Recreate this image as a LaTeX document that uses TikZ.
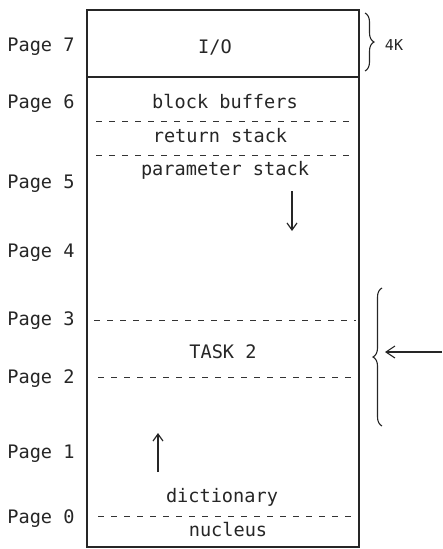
\documentclass[tikz,border=0pt]{standalone}
\usepackage{fontspec}
\setmainfont{DejaVu Sans Mono}
\usetikzlibrary{decorations.pathreplacing,arrows.meta}
\tikzset{
  ink/.style={draw=black!85, line width=1.1pt},
  sep/.style={draw=black!80, line width=1pt, dash pattern=on 6pt off 7pt},
  lbl/.style={font=\fontsize{18.6}{21}\selectfont, text=black!85, inner sep=0pt},
  growth/.style={draw=black!85, line width=1.2pt, -{Straight Barb[length=7pt,width=10pt]}},
  curly/.style={draw=black!85, line width=1.1pt, decorate, decoration={brace, amplitude=9pt}}
}
\begin{document}
\begin{tikzpicture}[x=1pt, y=-1pt]
  \useasboundingbox (0,0) rectangle (442,549);

  % memory block outline and I/O page
  \coordinate (tl) at (87,10);
  \coordinate (br) at (359,547);
  \draw[ink] (tl) rectangle (br);
  \draw[ink] (87,77) -- (359,77);

  % dashed region separators
  \draw[sep] (96,121) -- (356,121);
  \draw[sep] (96,155) -- (356,155);
  \draw[sep] (94,320) -- (356,320);
  \draw[sep] (98,377) -- (356,377);
  \draw[sep] (98,516) -- (358,516);

  % page labels
  \node[lbl] (p7) at (41,47)  {Page 7};
  \node[lbl] (p6) at (41,104) {Page 6};
  \node[lbl] (p5) at (41,184) {Page 5};
  \node[lbl] (p4) at (41,253) {Page 4};
  \node[lbl] (p3) at (41,321) {Page 3};
  \node[lbl] (p2) at (41,379) {Page 2};
  \node[lbl] (p1) at (41,454) {Page 1};
  \node[lbl] (p0) at (41,519) {Page 0};

  % region names
  \node[lbl] (io)   at (215,47)  {I/O};
  \node[lbl] (blk)  at (225,102) {block buffers};
  \node[lbl] (ret)  at (220,136) {return stack};
  \node[lbl] (par)  at (225,170) {parameter stack};
  \node[lbl] (task) at (223,352) {TASK 2};
  \node[lbl] (dict) at (222,497) {dictionary};
  \node[lbl] (nuc)  at (228,530) {nucleus};

  % stack and dictionary growth directions
  \coordinate (sdtop) at (292,191);
  \coordinate (sdbot) at (292,231);
  \draw[growth] (sdtop) -- (sdbot);
  \coordinate (dgbot) at (158,472);
  \coordinate (dgtop) at (158,433);
  \draw[growth] (dgbot) -- (dgtop);

  % 4K brace
  \draw[curly] (365,13) -- (365,71);
  \node[lbl, font=\fontsize{15}{17}\selectfont] (fourk) at (394,45) {4K};

  % task brace with incoming pointer
  \draw[curly] (382,426) -- (382,288);
  \coordinate (tsrc) at (442,352);
  \coordinate (tdst) at (385,352);
  \draw[draw=black!85, line width=1.1pt, -{Straight Barb[length=9pt,width=12pt]}] (tsrc) -- (tdst);
\end{tikzpicture}
\end{document}
